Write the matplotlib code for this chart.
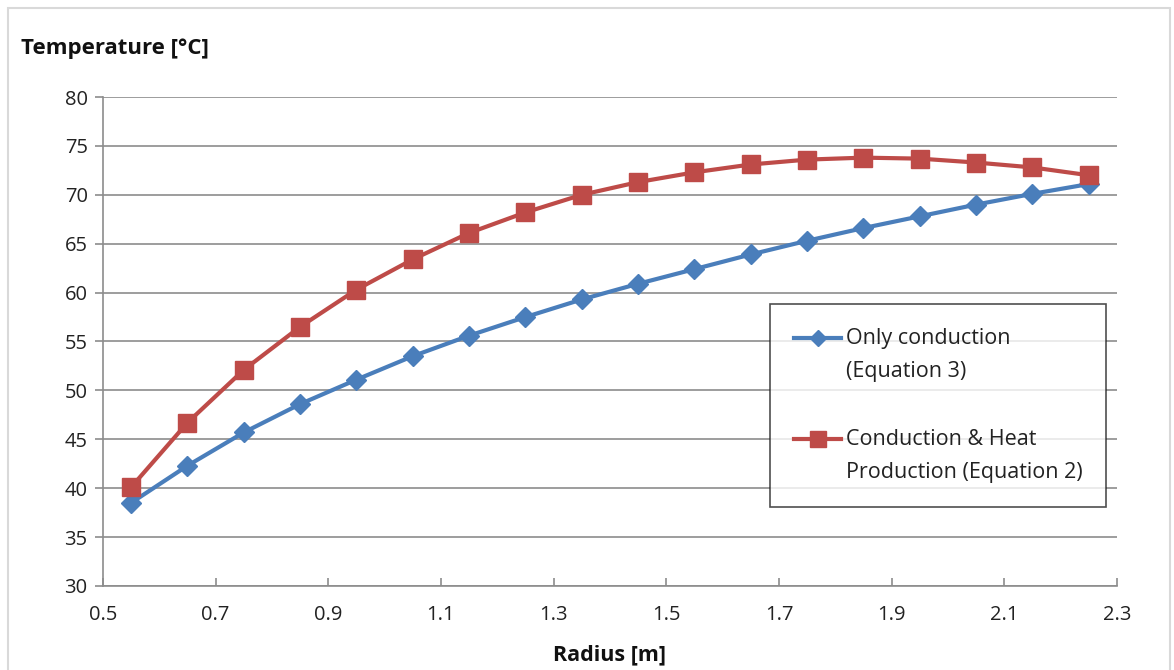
import matplotlib
matplotlib.use("Agg")
import matplotlib.pyplot as plt
from matplotlib.patches import Rectangle
from matplotlib.transforms import Affine2D

plt.rcParams['font.family'] = ['Open Sans', 'DejaVu Sans']

# data
radius = [0.55, 0.65, 0.75, 0.85, 0.95, 1.05, 1.15, 1.25, 1.35,
          1.45, 1.55, 1.65, 1.75, 1.85, 1.95, 2.05, 2.15, 2.25]
only_conduction = [38.5, 42.3, 45.7, 48.6, 51.1, 53.5, 55.6, 57.5, 59.3,
                   60.9, 62.4, 63.9, 65.3, 66.6, 67.8, 69.0, 70.1, 71.1]
heat_production = [40.1, 46.7, 52.1, 56.5, 60.3, 63.4, 66.1, 68.2, 70.0,
                   71.3, 72.3, 73.1, 73.6, 73.8, 73.7, 73.3, 72.8, 72.0]
xticks = [0.5, 0.7, 0.9, 1.1, 1.3, 1.5, 1.7, 1.9, 2.1, 2.3]
yticks = [30, 35, 40, 45, 50, 55, 60, 65, 70, 75, 80]

blue = '#4A7EBB'
red = '#BE4B48'
grey = '#8C8C8C'

fig = plt.figure(figsize=(11.74, 6.70), dpi=100)
# outer chart border
fig.patches.append(Rectangle((0.007, -0.01), 0.99, 0.998, transform=fig.transFigure,
                             fill=False, edgecolor='#D9D9D9', linewidth=1.5))

ax = fig.add_axes([0.0877, 0.1254, 0.8637, 0.7298])

ax.plot(radius, only_conduction, color=blue, linewidth=3, marker='D',
        markersize=10, label='Only conduction\n(Equation 3)')
ax.plot(radius, heat_production, color=red, linewidth=3, marker='s',
        markersize=13, label='Conduction & Heat\nProduction (Equation 2)')

ax.set_xlim(0.5, 2.3)
ax.set_ylim(30, 80)
ax.set_xticks(xticks)
ax.set_yticks(yticks)
ax.set_xticklabels([f'{v:.1f}' for v in xticks])
ax.tick_params(axis='both', labelsize=14.5, color=grey, length=6, width=1.2)
ax.tick_params(axis='x', direction='in', pad=14)
ax.tick_params(axis='y', direction='out', pad=5)
for lbl in ax.get_xticklabels() + ax.get_yticklabels():
    lbl.set_color('#222222')

ax.grid(axis='y', color=grey, linewidth=1.2)
ax.set_axisbelow(True)
for s in ['top', 'right']:
    ax.spines[s].set_visible(False)
for s in ['left', 'bottom']:
    ax.spines[s].set_color(grey)
    ax.spines[s].set_linewidth(1.2)

fig.text(0.018, 0.928, 'Temperature [°C]', fontsize=16, fontweight='bold',
         ha='left', va='center', color='#111111')
ax.set_xlabel('Radius [m]', fontsize=15.5, fontweight='bold', labelpad=14,
              color='#111111')

leg = ax.legend(loc='upper left', bbox_to_anchor=(0.658, 0.577), fontsize=15.5,
                frameon=True, fancybox=False, edgecolor='#222222',
                labelspacing=2.2, handlelength=2.2, handletextpad=0.2,
                borderpad=1.1, borderaxespad=0)
leg.get_frame().set_linewidth(1.2)
for t in leg.get_texts():
    t.set_linespacing(1.75)
    t.set_color('#222222')
# smaller markers in legend like Excel
for h in leg.legend_handles:
    h.set_markersize(8 if h.get_marker() == 'D' else 11)
# Excel puts the legend symbol level with the first text line
for col in leg._legend_handle_box.get_children():
    for row in col.get_children():
        da = row.get_children()[0]
        for a in da.get_children():
            a.set_transform(a.get_transform() + Affine2D().translate(0, 17))

fig.savefig('out.png', dpi=100)
